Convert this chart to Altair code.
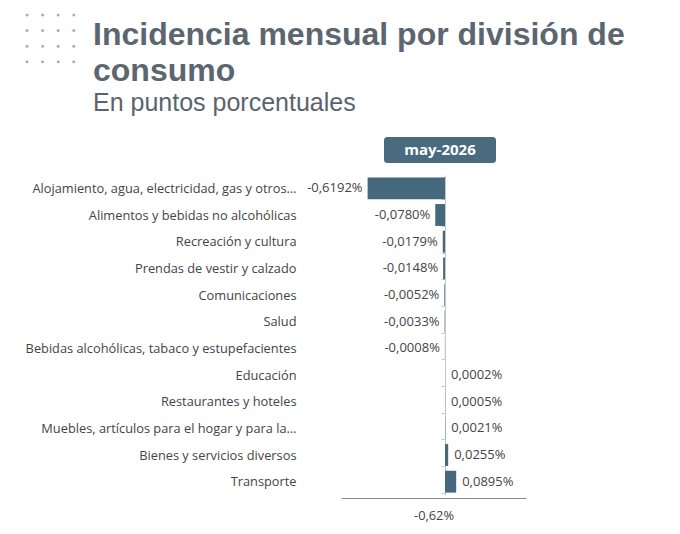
import altair as alt
import pandas as pd

categorias = [
    "Alojamiento, agua, electricidad, gas y otros…",
    "Alimentos y bebidas no alcohólicas",
    "Recreación y cultura",
    "Prendas de vestir y calzado",
    "Comunicaciones",
    "Salud",
    "Bebidas alcohólicas, tabaco y estupefacientes",
    "Educación",
    "Restaurantes y hoteles",
    "Muebles, artículos para el hogar y para la…",
    "Bienes y servicios diversos",
    "Transporte",
]
valores = [-0.6192, -0.0780, -0.0179, -0.0148, -0.0052, -0.0033, -0.0008,
           0.0002, 0.0005, 0.0021, 0.0255, 0.0895]
periodo = "may-2026"
titulo = ["Incidencia mensual por división de", "consumo"]
subtitulo = "En puntos porcentuales"

FONT = "Open Sans"
TFONT = "Liberation Sans"
BAR = "#46687c"
TXT = "#444444"

def fmt(v, d=4):
    return f"{v:.{d}f}".replace(".", ",") + "%"

df = pd.DataFrame({"cat": categorias, "v": valores})
df["lbl"] = [fmt(v) for v in valores]
total_lbl = fmt(sum(valores), 2)

base = alt.Chart(df)

yenc = alt.Y("cat:N", sort=categorias,
             scale=alt.Scale(paddingInner=0.18, paddingOuter=0.09),
             axis=alt.Axis(title=None, offset=-104, domainColor="#c8c8c8",
                           tickColor="#c8c8c8", tickSize=4, tickBand="extent",
                           labelPadding=145, labelFont=FONT, labelFontSize=12.8,
                           labelColor=TXT, labelLimit=400, grid=False))
xscale = alt.Scale(domain=[-0.832, 0.648], nice=False, zero=False)

bars = base.mark_bar(color=BAR).encode(
    y=yenc,
    x=alt.X("v:Q", scale=xscale,
            axis=alt.Axis(title=total_lbl, labels=False, ticks=False, grid=False,
                          domainColor="#8a8a8a", offset=3, titleFont=FONT,
                          titleFontSize=12.8, titleFontWeight="normal",
                          titleColor=TXT, titlePadding=11)),
)

neg = base.transform_filter("datum.v < 0").mark_text(
    align="right", dx=-5, font=FONT, fontSize=13, color=TXT, baseline="middle"
).encode(y=alt.Y("cat:N", sort=categorias), x=alt.X("v:Q"), text="lbl:N")
pos = base.transform_filter("datum.v >= 0").mark_text(
    align="left", dx=6, font=FONT, fontSize=13, color=TXT, baseline="middle"
).encode(y=alt.Y("cat:N", sort=categorias), x=alt.X("v:Q"), text="lbl:N")

one = pd.DataFrame({"k": [0]})
hdr_box = alt.Chart(one).mark_rect(color="#4a6b7f", cornerRadius=3).encode(
    x=alt.value(43), x2=alt.value(155), y=alt.value(-38), y2=alt.value(-12))
hdr_txt = alt.Chart(one).mark_text(
    text=periodo, color="white", font=FONT, fontSize=15, fontWeight="bold",
    align="center", baseline="middle").encode(x=alt.value(99), y=alt.value(-25))

t12 = alt.Chart(one).mark_text(
    text=titulo, lineHeight=36, color="#5b6670", font=TFONT, fontSize=32,
    fontWeight="bold", align="left", baseline="alphabetic"
).encode(x=alt.value(-248), y=alt.value(-130))
t3 = alt.Chart(one).mark_text(
    text=subtitulo, color="#5a646c", font=TFONT, fontSize=25, fontWeight="normal",
    align="left", baseline="alphabetic").encode(x=alt.value(-248), y=alt.value(-64))

dots_df = pd.DataFrame([{"i": i, "j": j} for i in range(4) for j in range(4)])
dots = alt.Chart(dots_df).transform_calculate(
    px="-314 + 15.6*datum.i", py="-160 + 15.6*datum.j"
).mark_circle(color="#86bbd2", size=9, opacity=1).encode(
    x=alt.X("px:Q", scale=None), y=alt.Y("py:Q", scale=None))

chart = alt.layer(bars, neg, pos, hdr_box, hdr_txt, t12, t3, dots).properties(
    width=185, height=320,
    padding={"left": 333, "top": 167, "right": 146, "bottom": 30},
    autosize=alt.AutoSizeParams(type="none"),
    background="white",
).configure_view(stroke=None)

chart.save("out.html", embed_options={"renderer": "svg", "actions": False})
